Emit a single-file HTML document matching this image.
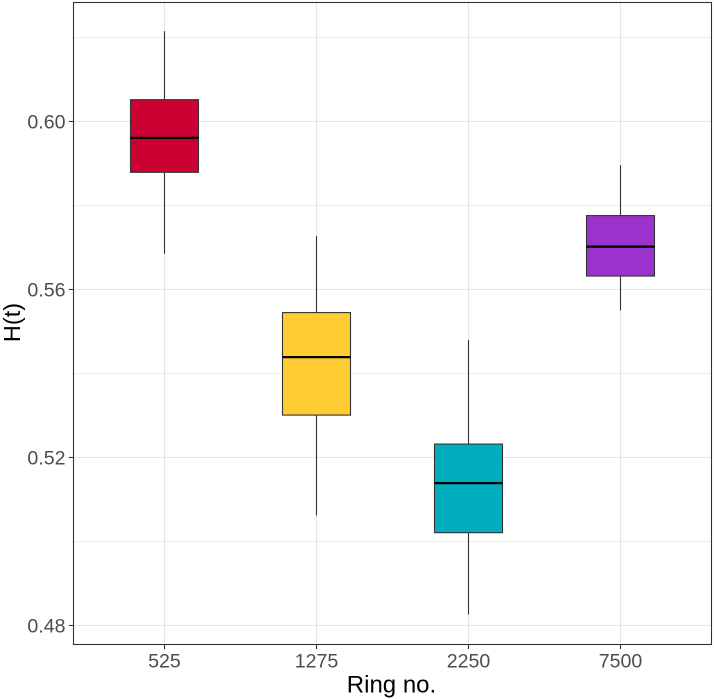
<!DOCTYPE html>
<html>
<head>
<meta charset="utf-8">
<title>H(t) by Ring no.</title>
<style>
html,body{margin:0;padding:0;background:#fff;width:714px;height:699px;overflow:hidden}
svg{display:block}
text{font-family:"Liberation Sans",Arial,sans-serif}
</style>
</head>
<body>
<svg id="chart" width="714" height="699" viewBox="0 0 714 699" xmlns="http://www.w3.org/2000/svg">
  <g id="grid"></g>
  <g id="boxes"></g>
  <rect x="73.5" y="2.5" width="638" height="642" fill="none" stroke="#333333" stroke-width="1.1"/>
  <g id="axes"></g>
  <text x="391.5" y="692.7" font-size="24" text-anchor="middle" fill="#000">Ring no.</text>
  <text transform="translate(20,322.5) rotate(-90)" font-size="23.5" text-anchor="middle" fill="#000">H(t)</text>
</svg>
<script>
const categories = ['525', '1275', '2250', '7500'];
const fills = ['#cc0033', '#ffcc33', '#00aebd', '#9933cc'];
const whiskerHigh = [0.6215, 0.5727, 0.5480, 0.5896];
const q3 = [0.6052, 0.5545, 0.5232, 0.5776];
const medians = [0.5961, 0.5439, 0.5139, 0.5702];
const q1 = [0.5879, 0.5301, 0.5021, 0.5632];
const whiskerLow = [0.5685, 0.5062, 0.4826, 0.5550];
const majorTicks = [0.48, 0.52, 0.56, 0.60];
const majorLabels = ['0.48', '0.52', '0.56', '0.60'];
const minorTicks = [0.50, 0.54, 0.58, 0.62];

const NS = 'http://www.w3.org/2000/svg';
const yScale = v => 121.5 + (0.60 - v) * 4200;
const xScale = i => 164.5 + i * 152;
const BOX_HALF = 34;
const PANEL = {left: 73.5, right: 711.5, top: 2.5, bottom: 644.5};

function mk(parent, tag, attrs, text) {
  const el = document.createElementNS(NS, tag);
  for (const k in attrs) el.setAttribute(k, attrs[k]);
  if (text !== undefined) el.textContent = text;
  parent.appendChild(el);
  return el;
}

const grid = document.getElementById('grid');
const boxes = document.getElementById('boxes');
const axes = document.getElementById('axes');

minorTicks.forEach(v => {
  const l = mk(grid, 'line', {x1: PANEL.left, x2: PANEL.right, y1: yScale(v), y2: yScale(v), stroke: '#e6e6e6', 'stroke-width': 0.8});
  
  
});
majorTicks.forEach((v, i) => {
  const l = mk(grid, 'line', {x1: PANEL.left, x2: PANEL.right, y1: yScale(v), y2: yScale(v), stroke: '#e6e6e6', 'stroke-width': 1.1});
  
  
  const t = mk(axes, 'line', {x1: 69, x2: PANEL.left, y1: yScale(v), y2: yScale(v), stroke: '#333333', 'stroke-width': 1.1});
  
  
  const lb = mk(axes, 'text', {x: 65.5, y: yScale(v) + 7, 'font-size': 19.6, 'text-anchor': 'end', fill: '#4d4d4d'}, majorLabels[i]);
  
  
});

categories.forEach((c, i) => {
  const x = xScale(i);
  const g = mk(grid, 'line', {x1: x, x2: x, y1: PANEL.top, y2: PANEL.bottom, stroke: '#e6e6e6', 'stroke-width': 1.1});
  
  

  const up = mk(boxes, 'line', {x1: x, x2: x, y1: yScale(whiskerHigh[i]), y2: yScale(q3[i]), stroke: '#333333', 'stroke-width': 1.1});
  
  
  const lo = mk(boxes, 'line', {x1: x, x2: x, y1: yScale(q1[i]), y2: yScale(whiskerLow[i]), stroke: '#333333', 'stroke-width': 1.1});
  
  
  const b = mk(boxes, 'rect', {x: x - BOX_HALF, y: yScale(q3[i]), width: BOX_HALF * 2, height: yScale(q1[i]) - yScale(q3[i]), fill: fills[i], stroke: '#333333', 'stroke-width': 1.1});
  
  
  const m = mk(boxes, 'line', {x1: x - BOX_HALF, x2: x + BOX_HALF, y1: yScale(medians[i]), y2: yScale(medians[i]), stroke: '#000', 'stroke-width': 2.2});
  
  

  const t = mk(axes, 'line', {x1: x, x2: x, y1: PANEL.bottom, y2: 649, stroke: '#333333', 'stroke-width': 1.1});
  
  
  const lb = mk(axes, 'text', {x: x, y: 667.5, 'font-size': 19.6, 'text-anchor': 'middle', fill: '#4d4d4d'}, c);
  
  
});
</script>
</body>
</html>
